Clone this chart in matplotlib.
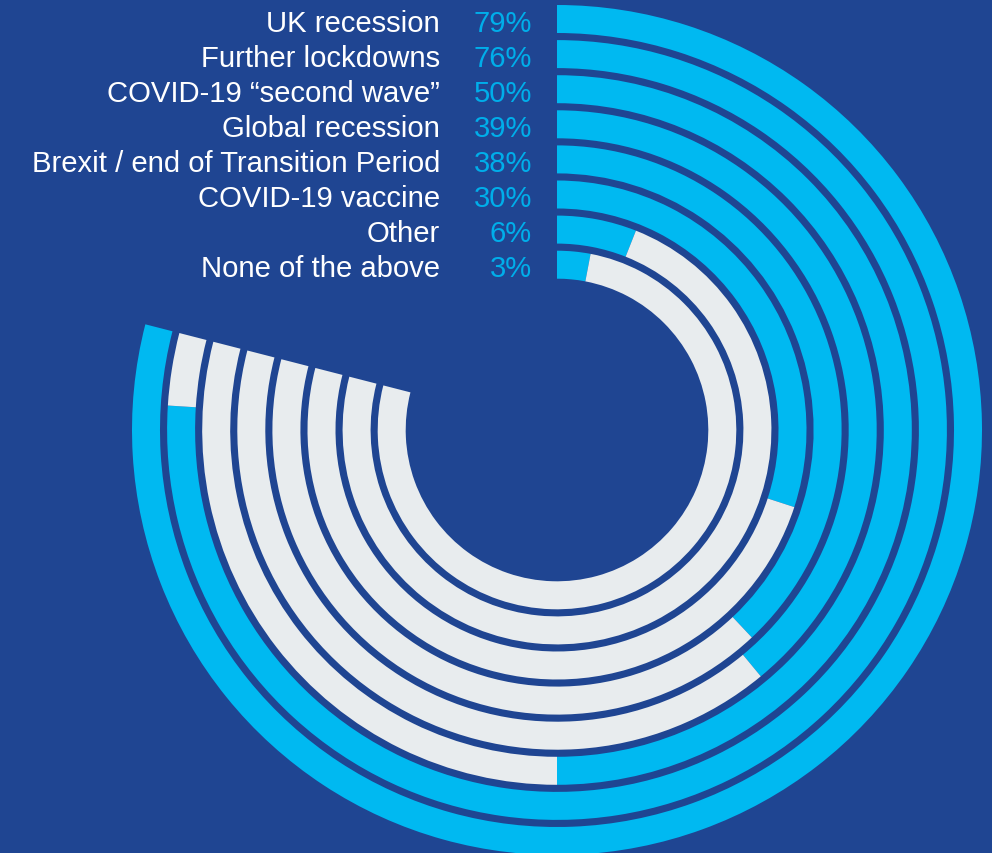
import numpy as np
import matplotlib
matplotlib.use("Agg")
import matplotlib.pyplot as plt

# Survey responses, outermost ring first
categories = [
    "UK recession",
    "Further lockdowns",
    "COVID-19 \u201csecond wave\u201d",
    "Global recession",
    "Brexit / end of Transition Period",
    "COVID-19 vaccine",
    "Other",
    "None of the above",
]
values = [79, 76, 50, 39, 38, 30, 6, 3]

BG = "#1f4592"
BLUE = "#00b9f1"
GREY = "#e8ecee"
PCT = "#00aeea"

W, H = 992, 854
fig = plt.figure(figsize=(W / 100, H / 100), dpi=100, facecolor=BG)

# Polar axes in pixel-sized radial units, centred at (557, 431) from top-left
cx, cy = 557, 431
R = 430
ax = fig.add_axes([(cx - R) / W, (H - cy - R) / H, 2 * R / W, 2 * R / H],
                  projection="polar")
ax.set_theta_zero_location("N")
ax.set_theta_direction(-1)
ax.set_rlim(0, R)
ax.axis("off")

outer = 425
step = 35.1
ring = 28
full = max(values)

for i, v in enumerate(values):
    r0 = outer - i * step - ring
    ang = np.deg2rad(v / 100 * 360)
    ang_max = np.deg2rad(full / 100 * 360)
    ax.bar(0, ring, width=ang, bottom=r0, align="edge", color=BLUE, linewidth=0)
    if ang_max > ang:
        ax.bar(ang, ring, width=ang_max - ang, bottom=r0, align="edge",
               color=GREY, linewidth=0)

# Labels and percentages
font = "Liberation Sans"
for i, (c, v) in enumerate(zip(categories, values)):
    base = 31.7 + i * 35.1
    fig.text(440 / W, 1 - base / H, c, ha="right", va="baseline",
             color="white", fontsize=21.1, family=font)
    fig.text(532 / W, 1 - base / H, f"{v}%", ha="right", va="baseline",
             color=PCT, fontsize=21.1, family=font)

fig.savefig("out.png", dpi=100, facecolor=BG)
